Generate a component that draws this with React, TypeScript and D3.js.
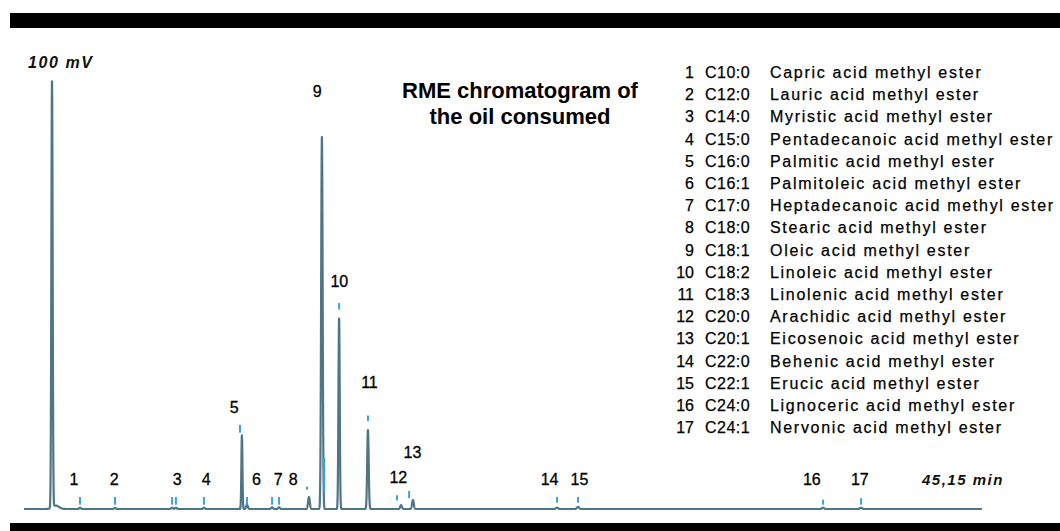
import React from 'react';
import * as d3 from 'd3';

// Peak data: retention time (min), height (mV), width (sigma, min)
const peakTimes = [1.32, 1.5, 2.64, 4.29, 6.98, 7.16, 8.48, 10.27, 10.51, 11.69, 12.02, 13.43, 14.04, 14.85, 16.21, 17.77, 18.33, 25.12, 26.11, 37.66, 39.45];
const peakHeights = [99.3, 0.8, 0.3, 0.25, 0.3, 0.3, 0.3, 17.2, 1.0, 0.4, 0.4, 2.8, 86.7, 44.5, 18.4, 0.9, 2.1, 0.3, 0.5, 0.3, 0.3];
const peakWidths = [0.03, 0.15, 0.04, 0.04, 0.04, 0.04, 0.04, 0.025, 0.04, 0.04, 0.04, 0.04, 0.035, 0.03, 0.035, 0.04, 0.04, 0.05, 0.05, 0.05, 0.05];

// Blue integration markers: time, bottom / top level (mV)
const markerTimes = [2.64, 4.29, 6.98, 7.16, 8.48, 10.18, 10.51, 11.69, 12.02, 13.34, 14.15, 14.85, 16.21, 17.58, 18.15, 25.12, 26.11, 37.66, 39.45];
const markerLow = [1, 1, 1, 1, 1, 17.8, 1, 1, 1, 4.5, 4, 46.5, 20.5, 2, 2.5, 1.5, 1.5, 1, 1];
const markerHigh = [2.8, 2.8, 2.8, 2.8, 2.8, 19.6, 2.8, 2.8, 2.8, 5.2, 12, 48, 21.8, 3.2, 4.2, 2.8, 2.8, 2.2, 2.5];

// Peak number labels: text, time, baseline level (mV)
const labelTexts = ['1', '2', '3', '4', '5', '6', '7', '8', '9', '10', '11', '12', '13', '14', '15', '16', '17'];
const labelTimes = [2.36, 4.25, 7.22, 8.59, 9.91, 10.95, 11.98, 12.69, 13.82, 14.86, 16.28, 17.64, 18.31, 24.77, 26.18, 37.13, 39.39];
const labelLevels = [5.6, 5.6, 5.6, 5.6, 22.4, 5.6, 5.6, 5.6, 96, 51.7, 28.2, 6.1, 11.9, 5.6, 5.6, 5.6, 5.6];

// Legend
const legendCodes = ['C10:0', 'C12:0', 'C14:0', 'C15:0', 'C16:0', 'C16:1', 'C17:0', 'C18:0', 'C18:1', 'C18:2', 'C18:3', 'C20:0', 'C20:1', 'C22:0', 'C22:1', 'C24:0', 'C24:1'];
const legendNames = [
  'Capric acid methyl ester',
  'Lauric acid methyl ester',
  'Myristic acid methyl ester',
  'Pentadecanoic acid methyl ester',
  'Palmitic acid methyl ester',
  'Palmitoleic acid methyl ester',
  'Heptadecanoic acid methyl ester',
  'Stearic acid methyl ester',
  'Oleic acid methyl ester',
  'Linoleic acid methyl ester',
  'Linolenic acid methyl ester',
  'Arachidic acid methyl ester',
  'Eicosenoic acid methyl ester',
  'Behenic acid methyl ester',
  'Erucic acid methyl ester',
  'Lignoceric acid methyl ester',
  'Nervonic acid methyl ester',
];

const titleLines = ['RME chromatogram of', 'the oil consumed'];
const yLabel = '100 mV';
const xLabel = '45,15 min';
const runEnd = 45.15;

const App = () => {
  const ref = React.useRef<SVGSVGElement>(null);

  React.useEffect(() => {
    const svg = d3.select(ref.current);
    svg.selectAll('*').remove();

    const width = 1060;
    const height = 531;

    const x = d3.scaleLinear().domain([0, runEnd]).range([24, 982]);
    const y = d3.scaleLinear().domain([0, 100]).range([509, 80]);

    // white page + black frame bars
    svg.append('rect').attr('width', width).attr('height', height).attr('fill', '#fff');
    svg.append('rect').attr('x', 10).attr('y', 13).attr('width', 1050).attr('height', 15).attr('fill', '#000');
    svg.append('rect').attr('x', 10).attr('y', 523).attr('width', 1050).attr('height', 8).attr('fill', '#000');

    // build the trace from the peak table
    const times = d3.range(0, runEnd + 0.001, 0.004);
    const signal = times.map((t) => {
      let v = 0;
      peakTimes.forEach((pt, i) => {
        const s = peakWidths[i];
        v += peakHeights[i] * Math.exp(-((t - pt) * (t - pt)) / (2 * s * s));
      });
      return [t, v] as [number, number];
    });

    const line = d3.line<[number, number]>()
      .x((d) => x(d[0]))
      .y((d) => y(d[1]));

    svg.append('path')
      .datum(signal)
      .attr('d', line)
      .attr('fill', 'none')
      .attr('stroke', '#4f7586')
      .attr('stroke-width', 2.2)
      .attr('stroke-linejoin', 'round');

    // markers
    svg.append('g')
      .selectAll('line')
      .data(markerTimes)
      .join('line')
      .attr('x1', (d) => x(d))
      .attr('x2', (d) => x(d))
      .attr('y1', (d, i) => y(markerLow[i]))
      .attr('y2', (d, i) => y(markerHigh[i]))
      .attr('stroke', '#3aa2dc')
      .attr('stroke-width', 2);

    // peak labels
    svg.append('g')
      .style('font', '16px "Liberation Sans", Arial, sans-serif')
      .attr('fill', '#000')
      .attr('text-anchor', 'middle')
      .selectAll('text')
      .data(labelTexts)
      .join('text')
      .attr('x', (d, i) => x(labelTimes[i]))
      .attr('y', (d, i) => y(labelLevels[i]))
      .attr('stroke', '#000')
      .attr('stroke-width', 0.3)
      .text((d) => d);

    // axis annotations
    svg.append('text')
      .attr('x', 28).attr('y', 68)
      .style('font', 'italic bold 16px "Liberation Sans", Arial, sans-serif')
      .attr('letter-spacing', 1.6)
      .attr('fill', '#111')
      .text(yLabel);

    svg.append('text')
      .attr('x', 922).attr('y', 485)
      .style('font', 'italic bold 15px "Liberation Sans", Arial, sans-serif')
      .attr('letter-spacing', 1.5)
      .attr('fill', '#111')
      .text(xLabel);

    // title
    svg.append('g')
      .style('font', 'bold 22px "Liberation Sans", Arial, sans-serif')
      .attr('text-anchor', 'middle')
      .attr('fill', '#000')
      .selectAll('text')
      .data(titleLines)
      .join('text')
      .attr('x', 520)
      .attr('y', (d, i) => 98 + i * 26)
      .text((d) => d);

    // legend
    const legend = svg.append('g')
      .style('font', '16px "Liberation Sans", Arial, sans-serif')
      .attr('fill', '#000')
      .attr('stroke', '#000')
      .attr('stroke-width', 0.25);
    const rowY = (i: number) => 78 + i * 22.2;
    legend.selectAll('text.num')
      .data(legendCodes)
      .join('text')
      .attr('class', 'num')
      .attr('x', 694)
      .attr('y', (d, i) => rowY(i))
      .attr('text-anchor', 'end')
      .text((d, i) => String(i + 1));
    legend.selectAll('text.code')
      .data(legendCodes)
      .join('text')
      .attr('class', 'code')
      .attr('x', 705)
      .attr('y', (d, i) => rowY(i))
      .attr('letter-spacing', 0.5)
      .text((d) => d);
    legend.selectAll('text.name')
      .data(legendNames)
      .join('text')
      .attr('class', 'name')
      .attr('x', 770)
      .attr('y', (d, i) => rowY(i))
      .attr('letter-spacing', 1.7)
      .text((d) => d);
  }, []);

  return (
    <svg
      ref={ref}
      width={1060}
      height={531}
      style={{ position: 'absolute', left: 0, top: 0, display: 'block' }}
    />
  );
};

export default App;
